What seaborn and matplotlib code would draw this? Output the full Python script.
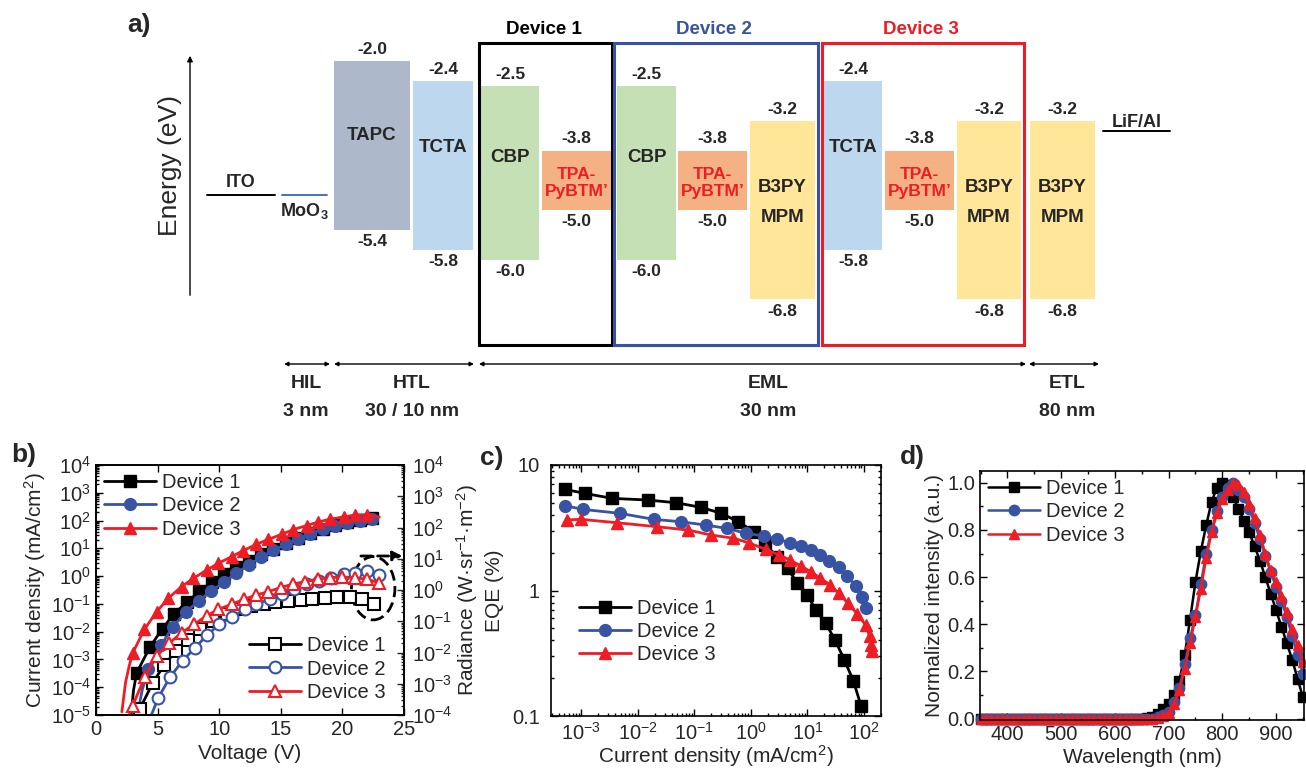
import numpy as np
import pandas as pd
import matplotlib
matplotlib.use('Agg')
import matplotlib.pyplot as plt
import matplotlib.ticker as mticker
from matplotlib.patches import Rectangle, Ellipse
import seaborn as sns

# ---------------- data ----------------
# a) energy levels (eV)
layer_names = ['TAPC', 'TCTA', 'CBP', 'TPA-\nPyBTM’', 'CBP', 'TPA-\nPyBTM’', 'B3PY\nMPM',
               'TCTA', 'TPA-\nPyBTM’', 'B3PY\nMPM', 'B3PY\nMPM']
lumo = [-2.0, -2.4, -2.5, -3.8, -2.5, -3.8, -3.2, -2.4, -3.8, -3.2, -3.2]
homo = [-5.4, -5.8, -6.0, -5.0, -6.0, -5.0, -6.8, -5.8, -5.0, -6.8, -6.8]
electrode_names = ['ITO', 'MoO$_\\mathbf{3}$', 'LiF/Al']
electrode_levels = [-4.7, -4.7, -3.4]
device_names = ['Device 1', 'Device 2', 'Device 3']
stack_names = ['HIL', 'HTL', 'EML', 'ETL']
stack_thick = ['3 nm', '30 / 10 nm', '30 nm', '80 nm']

# b) J-V (filled) and radiance (open)
v_j1 = [2.85, 3.05, 3.3, 4.4, 5.4, 6.3, 7.4, 8.4, 9.4, 10.4, 11.4, 12.4, 13.4, 14.4, 15.4, 16.4,
        17.4, 18.4, 19.4, 20.4, 21.4, 22.4]
j1 = [1.0e-5, 8e-5, 3.3e-4, 2.9e-3, 1.3e-2, 4.2e-2, 0.12, 0.28, 0.63, 1.2, 2.2, 3.6, 6.0, 9.8,
      15, 23, 35, 50, 68, 87, 105, 120]
v_j2 = [3.35, 3.75, 4.25, 5.28, 6.22, 7.3, 8.36, 9.33, 10.39, 11.36, 12.4, 13.4, 14.4, 15.4, 16.4,
        17.4, 18.45, 19.4, 20.4, 21.4, 22.4]
j2 = [1.0e-5, 8e-5, 4.4e-4, 3.3e-3, 1.45e-2, 5.2e-2, 0.13, 0.29, 0.60, 1.26, 2.5, 4.8, 8.5, 14,
      22, 34, 49, 65, 83, 100, 112]
v_j3 = [2.1, 2.4, 2.7, 2.98, 3.92, 4.92, 5.87, 6.95, 7.9, 9.0, 9.93, 11.0, 11.96, 13.0, 13.99,
        15.07, 16.0, 17.1, 18.05, 19.0, 20.1, 21.0, 22.0, 23.0]
j3 = [1.3e-5, 1.5e-4, 6e-4, 1.7e-3, 1.2e-2, 5.2e-2, 0.16, 0.42, 0.83, 1.66, 2.9, 5.0, 8.3, 13.8,
      21, 32, 47, 66, 89, 112, 135, 158, 162, 132]
v_r1 = [3.2, 3.57, 4.6, 5.55, 6.49, 7.49, 8.44, 9.52, 10.6, 11.55, 12.6, 13.6, 14.5, 15.6, 16.6,
        17.5, 18.6, 19.6, 20.6, 21.6, 22.6]
r1 = [8e-5, 1.6e-4, 1.05e-3, 4.1e-3, 1.1e-2, 2.6e-2, 5.5e-2, 0.10, 0.17, 0.24, 0.31, 0.35, 0.40,
      0.45, 0.48, 0.50, 0.55, 0.58, 0.58, 0.50, 0.35]
v_r2 = [4.4, 5.06, 6.0, 7.03, 8.04, 8.98, 10.0, 11.0, 12.1, 13.0, 14.1, 15.1, 16.1, 17.1, 18.1,
        19.1, 20.1, 21.0, 22.0, 23.0]
r2 = [8e-5, 3.6e-4, 1.6e-3, 5.5e-3, 1.4e-2, 3.5e-2, 7.9e-2, 0.135, 0.24, 0.36, 0.50, 0.72, 1.07,
      1.55, 1.95, 2.5, 3.2, 3.6, 4.2, 3.1]
v_r3 = [2.6, 2.98, 3.98, 4.92, 5.95, 6.95, 7.95, 8.98, 9.93, 11.0, 12.0, 13.0, 14.0, 15.0, 16.0,
        17.0, 18.0, 19.0, 20.0, 21.0, 22.0, 23.0]
r3 = [8e-5, 2.0e-4, 1.7e-3, 7.6e-3, 2.0e-2, 4.3e-2, 7.9e-2, 0.15, 0.24, 0.35, 0.50, 0.69, 0.89,
      1.2, 1.55, 1.86, 2.2, 2.5, 2.6, 2.5, 2.2, 1.7]

# c) EQE vs current density
j_e1 = [5.1e-4, 1.15e-3, 3.5e-3, 1.5e-2, 4.8e-2, 0.13, 0.30, 0.60, 1.15, 1.8, 2.95, 4.5, 6.6, 10,
        14, 21, 31, 45, 65, 89]
eqe1 = [6.4, 5.94, 5.42, 5.26, 5.0, 4.6, 4.12, 3.52, 2.94, 2.31, 1.86, 1.50, 1.14, 0.92, 0.70,
        0.55, 0.40, 0.28, 0.19, 0.12]
j_e2 = [5.2e-4, 1.05e-3, 4.8e-3, 1.9e-2, 5.8e-2, 0.16, 0.37, 0.81, 1.67, 2.94, 4.9, 7.6, 11.5,
        16.6, 24.5, 35.5, 50, 71, 93, 107]
eqe2 = [4.74, 4.43, 4.12, 3.69, 3.53, 3.32, 3.13, 2.86, 2.72, 2.57, 2.40, 2.26, 2.10, 1.92, 1.73,
        1.53, 1.31, 1.09, 0.89, 0.73]
j_e3 = [5.6e-4, 9.8e-4, 4.2e-3, 2.2e-2, 7.8e-2, 0.195, 0.49, 0.91, 1.82, 3.16, 4.9, 7.6, 11.5, 17,
        25, 35.5, 52.5, 76, 107, 126, 135, 141]
eqe3 = [3.65, 3.69, 3.47, 3.22, 3.03, 2.77, 2.61, 2.40, 2.13, 1.92, 1.75, 1.57, 1.41, 1.25, 1.11,
        0.95, 0.79, 0.65, 0.53, 0.43, 0.37, 0.33]

# d) EL spectra, 350-950 nm every 10 nm
wl = list(range(350, 951, 10))
el1 = [0, 0, 0, 0, 0, 0, 0, 0, 0, 0, 0, 0, 0, 0, 0, 0, 0, 0, 0, 0, 0, 0, 0, 0, 0, 0, 0, 0, 0, 0, 0,
       0.003, 0.008, 0.02, 0.04, 0.06, 0.10, 0.16, 0.27, 0.42, 0.58, 0.71, 0.82, 0.92, 0.98, 1.0,
       0.99, 0.94, 0.89, 0.84, 0.79, 0.73, 0.67, 0.60, 0.53, 0.46, 0.39, 0.32, 0.25, 0.17, 0.09]
el2 = [0, 0, 0, 0, 0, 0, 0, 0, 0, 0, 0, 0, 0, 0, 0, 0, 0, 0, 0, 0, 0, 0, 0, 0, 0, 0, 0, 0, 0, 0, 0,
       0, 0, 0.005, 0.015, 0.03, 0.07, 0.13, 0.23, 0.34, 0.44, 0.57, 0.70, 0.80, 0.88, 0.94, 0.98,
       1.0, 0.97, 0.94, 0.89, 0.83, 0.76, 0.69, 0.62, 0.56, 0.50, 0.43, 0.35, 0.27, 0.19]
el3 = [0, 0, 0, 0, 0, 0, 0, 0, 0, 0, 0, 0, 0, 0, 0, 0, 0, 0, 0, 0, 0, 0, 0, 0, 0, 0, 0, 0, 0, 0, 0,
       0, 0, 0.003, 0.01, 0.025, 0.06, 0.12, 0.21, 0.32, 0.43, 0.55, 0.68, 0.79, 0.87, 0.93, 0.97,
       1.0, 0.99, 0.96, 0.91, 0.85, 0.78, 0.70, 0.63, 0.58, 0.52, 0.45, 0.38, 0.31, 0.24]

# ---------------- style ----------------
sns.set_style('ticks')
plt.rcParams['font.family'] = ['Liberation Sans', 'DejaVu Sans']
plt.rcParams['mathtext.fontset'] = 'custom'
plt.rcParams['mathtext.rm'] = 'Liberation Sans'
plt.rcParams['mathtext.it'] = 'Liberation Sans:italic'
plt.rcParams['mathtext.bf'] = 'Liberation Sans:bold'
plt.rcParams['axes.linewidth'] = 1.2
plt.rcParams['axes.edgecolor'] = 'black'

BLUE = '#3953a4'
RED = '#ee1c25'
W, H = 1306, 768

fig = plt.figure(figsize=(W / 100, H / 100), dpi=100)


def fbox(l, t, r, b):
    return [l / W, 1 - b / H, (r - l) / W, (b - t) / H]


# ---------------- a) energy diagram ----------------
ax_a = fig.add_axes(fbox(0, 0, W, 430))
ax_a.axis('off')


def ey(ypx):
    # pixel row of the panel -> energy (eV)
    return -4.29 - (ypx - 174.9) / 49.6


ax_a.set_xlim(0, W)
ax_a.set_ylim(ey(430), ey(0))

bar_left = [334, 413, 481, 542, 617, 678, 750, 824, 885, 957, 1030]
bar_right = [410, 473, 539, 611, 676, 747, 815, 882, 954, 1021, 1095]
name_y = [135, 148, 158, 183, 158, 183, 202, 148, 183, 202, 202]
mat_color = {'TAPC': '#adb9ca', 'TCTA': '#bdd7ee', 'CBP': '#c5e0b4',
             'TPA': '#f4b183', 'B3PY': '#ffe699'}
centers = [(l + r) / 2 for l, r in zip(bar_left, bar_right)]
widths = [r - l for l, r in zip(bar_left, bar_right)]
colors = [mat_color[n.split('-')[0].split('\n')[0]] for n in layer_names]
ax_a.bar(centers, np.array(lumo) - np.array(homo), bottom=homo, width=widths,
         color=colors, edgecolor='none')

for cx, name, ny, lo, hi in zip(centers, layer_names, name_y, lumo, homo):
    if name.startswith('TPA'):
        ax_a.text(cx, ey(ny), name, ha='center', va='center', fontsize=12.5,
                  fontweight='bold', color=RED, linespacing=1.1)
    elif name.startswith('B3PY'):
        ax_a.text(cx, ey(ny), name, ha='center', va='center', fontsize=13.5,
                  fontweight='bold', linespacing=2.0)
    else:
        ax_a.text(cx, ey(ny), name, ha='center', va='center', fontsize=13.5,
                  fontweight='bold')
    ax_a.annotate(f'{lo:.1f}', (cx, lo), xytext=(0, 3), textcoords='offset points',
                  ha='center', va='bottom', fontsize=12.5, fontweight='bold')
    ax_a.annotate(f'{hi:.1f}', (cx, hi), xytext=(0, -3), textcoords='offset points',
                  ha='center', va='top', fontsize=12.5, fontweight='bold')

# electrodes
el_x = [(207, 275), (282, 327), (1103, 1170)]
el_col = ['black', '#4472c4', 'black']
el_off = [(0, 3, 'bottom'), (0, -4, 'top'), (0, 0, 'bottom')]
for name, lev, (x0, x1), c, (dx, dy, va) in zip(electrode_names, electrode_levels, el_x, el_col, el_off):
    ax_a.plot([x0, x1], [lev, lev], color=c, lw=1.4)
    ax_a.annotate(name, ((x0 + x1) / 2, lev), xytext=(dx, dy), textcoords='offset points',
                  ha='center', va=va, fontsize=13, fontweight='bold')

# device boxes
box_x = [(479, 612), (614, 818), (822, 1024)]
box_col = ['black', BLUE, RED]
for name, (x0, x1), c in zip(device_names, box_x, box_col):
    ax_a.add_patch(Rectangle((x0, ey(345)), x1 - x0, ey(43) - ey(345), fill=False,
                             edgecolor=c, lw=2.2))
    ax_a.text((x0 + x1) / 2 - 2, ey(29), name, ha='center', va='center', fontsize=13.5,
              fontweight='bold', color=c)

# energy axis
ax_a.annotate('', xy=(190, ey(53)), xytext=(190, ey(298)),
              arrowprops=dict(arrowstyle='-|>', lw=1.0, color='black', mutation_scale=8))
ax_a.text(170, ey(165), 'Energy (eV)', rotation=90, ha='center', va='center', fontsize=19)

# layer thickness arrows
stack_x = [(284, 330), (334, 474), (479, 1026), (1029, 1099)]
stack_lx = [306, 412, 768, 1067]
for name, thick, (x0, x1), lx in zip(stack_names, stack_thick, stack_x, stack_lx):
    ax_a.annotate('', xy=(x0, ey(364)), xytext=(x1, ey(364)),
                  arrowprops=dict(arrowstyle='<|-|>', lw=1.0, color='black',
                                  mutation_scale=6, shrinkA=0, shrinkB=0))
    ax_a.text(lx, ey(384), name, ha='center', va='center', fontsize=14, fontweight='bold')
    ax_a.text(lx, ey(412), thick, ha='center', va='center', fontsize=14, fontweight='bold')

# ---------------- bottom panels ----------------
ax_b = fig.add_axes(fbox(96, 465, 404, 715))
ax_b2 = ax_b.twinx()
ax_c = fig.add_axes(fbox(551, 465, 881, 716))
ax_d = fig.add_axes(fbox(980, 471, 1304, 720))

for ax in (ax_b, ax_b2, ax_c):
    ax.set_yscale('log')
ax_c.set_xscale('log')

line_kw = dict(lw=2.0, markersize=8.5)
# filled: current density
for v, j, m, c, lab, lead in [(v_j1, j1, 's', 'black', 'Device 1', 2),
                              (v_j2, j2, 'o', BLUE, 'Device 2', 2),
                              (v_j3, j3, '^', RED, 'Device 3', 3)]:
    idx = list(range(lead, len(v)))
    if lab == 'Device 3':
        idx = idx[:-1]
    sns.lineplot(x=v, y=j, ax=ax_b, color=c, marker=m, markeredgecolor=c,
                 markeredgewidth=1.0, markevery=idx, label=lab, **line_kw)
# open: radiance
for v, r, m, c, lab in [(v_r1, r1, 's', 'black', 'Device 1'),
                        (v_r2, r2, 'o', BLUE, 'Device 2'),
                        (v_r3, r3, '^', RED, 'Device 3')]:
    sns.lineplot(x=v, y=r, ax=ax_b2, color=c, marker=m, markeredgecolor=c,
                 markerfacecolor='white', markeredgewidth=1.5,
                 markevery=list(range(1, len(v))), label=lab, **line_kw)

ax_b.set_xlim(0, 25)
ax_b.set_ylim(1e-5, 1e4)
ax_b2.set_ylim(1e-4, 1e4)
ax_b.xaxis.set_major_locator(mticker.MultipleLocator(5))
ax_b.set_xlabel('Voltage (V)', fontsize=15, labelpad=4)
ax_b.set_ylabel('Current density (mA/cm$^2$)', fontsize=15, labelpad=2)
ax_b2.set_ylabel('Radiance (W·sr$^{-1}$·m$^{-2}$)', fontsize=15, labelpad=1)

leg_kw = dict(frameon=False, fontsize=14.5, handlelength=2.6, handletextpad=0.3,
              labelspacing=0.22, borderpad=0.2, borderaxespad=0.2)
ax_b.legend(ax_b.get_lines()[:3], device_names, loc='upper left', **leg_kw)
ax_b2.legend(ax_b2.get_lines()[:3], device_names, loc='lower left',
             bbox_to_anchor=(0.47, 0.02), **leg_kw)

ax_b2.add_patch(Ellipse((0.900, 0.507), 0.141, 0.253, transform=ax_b.transAxes,
                        fill=False, ls=(0, (4, 2)), lw=2.0, ec='black', clip_on=False))
ax_b2.annotate('', xy=(0.995, 0.636), xytext=(0.86, 0.636), xycoords='axes fraction',
               arrowprops=dict(arrowstyle='-|>', ls=(0, (4, 2)), lw=2.0, color='black',
                               mutation_scale=14, shrinkA=0, shrinkB=0))

# c) EQE
for j, e, m, c, lab in [(j_e1, eqe1, 's', 'black', 'Device 1'),
                        (j_e2, eqe2, 'o', BLUE, 'Device 2'),
                        (j_e3, eqe3, '^', RED, 'Device 3')]:
    sns.lineplot(x=j, y=e, ax=ax_c, color=c, marker=m, markeredgecolor=c,
                 markeredgewidth=1.0, label=lab, clip_on=False, **line_kw)
ax_c.set_xlim(2.9e-4, 2.0e2)
ax_c.set_ylim(0.1, 10)
ax_c.set_xlabel('Current density (mA/cm$^2$)', fontsize=15, labelpad=0)
ax_c.set_ylabel('EQE (%)', fontsize=15, labelpad=6)
ax_c.legend(ax_c.get_lines()[:3], device_names, loc='upper left',
            bbox_to_anchor=(0.06, 0.5), **leg_kw)

# d) spectra
for e, m, c, lab in [(el1, 's', 'black', 'Device 1'),
                     (el2, 'o', BLUE, 'Device 2'),
                     (el3, '^', RED, 'Device 3')]:
    sns.lineplot(x=wl, y=e, ax=ax_d, color=c, marker=m, markeredgecolor=c,
                 markeredgewidth=1.0, label=lab, clip_on=False, lw=1.8, markersize=7.5)
ax_d.set_xlim(349, 952)
ax_d.set_ylim(-0.006, 1.05)
ax_d.xaxis.set_major_locator(mticker.MultipleLocator(100))
ax_d.xaxis.set_minor_locator(mticker.MultipleLocator(50))
ax_d.yaxis.set_major_locator(mticker.MultipleLocator(0.2))
ax_d.yaxis.set_minor_locator(mticker.MultipleLocator(0.1))
ax_d.yaxis.set_major_formatter(mticker.FormatStrFormatter('%.1f'))
ax_d.set_xlabel('Wavelength (nm)', fontsize=15, labelpad=3)
ax_d.set_ylabel('Normalized intensity (a.u.)', fontsize=15, labelpad=2)
ax_d.legend(ax_d.get_lines()[:3], device_names, loc='upper left', **leg_kw)

# ticks
for ax in (ax_b.yaxis, ax_b2.yaxis, ax_c.yaxis, ax_c.xaxis):
    ax.set_major_locator(mticker.LogLocator(base=10, numticks=20))
    ax.set_minor_locator(mticker.LogLocator(base=10, subs=np.arange(2, 10), numticks=20))
    ax.set_minor_formatter(mticker.NullFormatter())
ax_c.yaxis.set_major_formatter(mticker.FuncFormatter(lambda v, p: f'{v:g}'))

for ax in (ax_b, ax_c, ax_d):
    ax.tick_params(which='both', direction='in', top=True, right=(ax is not ax_b),
                   labelsize=14.5, color='black', width=1.0)
    ax.tick_params(which='major', length=5)
    ax.tick_params(which='minor', length=2.5)
    for s in ax.spines.values():
        s.set_color('black')
        s.set_linewidth(1.2)
ax_b.tick_params(which='both', left=True, right=False)
ax_c.tick_params(axis='x', which='major', pad=4)
ax_c.tick_params(axis='y', which='major', pad=8)
ax_b2.tick_params(which='both', direction='in', labelsize=14.5, width=1.0)
ax_b2.tick_params(which='major', length=5, pad=6)
ax_b2.tick_params(which='minor', length=2.5)

# panel letters
for lab, x, y in [('a)', 139, 25), ('b)', 24, 455), ('c)', 492, 458), ('d)', 912, 457)]:
    fig.text(x / W, 1 - y / H, lab, ha='center', va='center', fontsize=19, fontweight='bold')

fig.savefig('out.png', dpi=100)
